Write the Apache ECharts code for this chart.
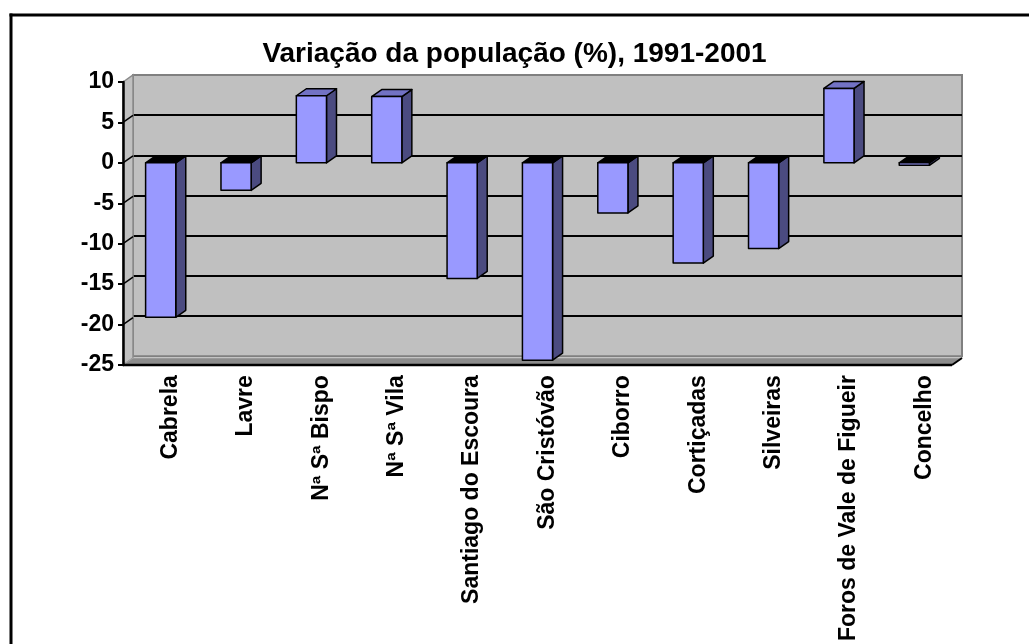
<!DOCTYPE html>
<html>
<head>
<meta charset="utf-8">
<title>Variação da população</title>
<script src="https://cdn.jsdelivr.net/npm/echarts@6/dist/echarts.min.js"></script>
<style>
    html, body { margin: 0; padding: 0; background: #ffffff; overflow: hidden; }
    #chart { width: 1029px; height: 644px; }
</style>
</head>
<body>
<div id="chart"></div>
<script>
// dados
var freguesias = ['Cabrela', 'Lavre', 'Nª Sª Bispo', 'Nª Sª Vila', 'Santiago do Escoura', 'São Cristóvão',
    'Ciborro', 'Cortiçadas', 'Silveiras', 'Foros de Vale de Figueir', 'Concelho'];
var variacao = [-19.1, -3.4, 8.3, 8.2, -14.3, -24.4, -6.2, -12.4, -10.6, 9.2, -0.3];
var yMin = -25, yMax = 10, yStep = 5;

// profundidade do efeito 3D (px)
var DX = 10, DY = -7;
var FONT = 'Liberation Sans, Arial, sans-serif';

var chart = echarts.init(document.getElementById('chart'), null, {renderer: 'canvas'});

function renderWalls(params, api) {
    var cs = params.coordSys;
    var x = cs.x, y = cs.y, w = cs.width, h = cs.height;
    var children = [];
    // parede lateral
    children.push({
        type: 'polygon',
        shape: {points: [[x, y], [x + DX, y + DY], [x + DX, y + h + DY], [x, y + h]]},
        style: {fill: '#C0C0C0', stroke: '#8a8a8a', lineWidth: 1.5}
    });
    // linhas de grelha na parede lateral
    for (var v = yMin + yStep; v < yMax; v += yStep) {
        var py = api.coord([0, v])[1];
        children.push({
            type: 'line',
            shape: {x1: x, y1: py, x2: x + DX, y2: py + DY},
            style: {stroke: '#000', lineWidth: 1.5}
        });
    }
    // chão
    children.push({
        type: 'polygon',
        shape: {points: [[x, y + h], [x + DX, y + h + DY], [x + w + DX, y + h + DY], [x + w, y + h]]},
        style: {fill: '#8c8c8c', stroke: '#a8a8a8', lineWidth: 1}
    });
    children.push({
        type: 'line',
        shape: {x1: x, y1: y + h, x2: x + w, y2: y + h},
        style: {stroke: '#000', lineWidth: 2.5}
    });
    children.push({
        type: 'line',
        shape: {x1: x + w, y1: y + h, x2: x + w + DX, y2: y + h + DY},
        style: {stroke: '#000', lineWidth: 2}
    });
    return {type: 'group', children: children};
}

function renderBar(params, api) {
    var i = api.value(0), v = api.value(1);
    var p0 = api.coord([i, 0]);
    var p1 = api.coord([i, v]);
    var hw = api.size([1, 0])[0] * 0.2;
    var xl = p0[0] - hw, xr = p0[0] + hw;
    var yt = Math.min(p0[1], p1[1]), yb = Math.max(p0[1], p1[1]);
    var edge = {stroke: '#000', lineWidth: 1.5, lineJoin: 'round'};
    return {
        type: 'group',
        children: [
            {
                type: 'polygon',
                shape: {points: [[xr, yt], [xr + DX, yt + DY], [xr + DX, yb + DY], [xr, yb]]},
                style: Object.assign({fill: '#4B4B80'}, edge)
            },
            {
                type: 'polygon',
                shape: {points: [[xl, yt], [xl + DX, yt + DY], [xr + DX, yt + DY], [xr, yt]]},
                style: Object.assign({fill: v >= 0 ? '#7272C4' : '#000'}, edge)
            },
            {
                type: 'rect',
                shape: {x: xl, y: yt, width: xr - xl, height: yb - yt},
                style: Object.assign({fill: '#9999FF'}, edge)
            }
        ]
    };
}

var option = {
    backgroundColor: '#ffffff',
    animation: false,
    title: {
        text: 'Variação da população (%), 1991-2001',
        left: 'center',
        top: 35,
        textStyle: {fontFamily: FONT, fontSize: 28, fontWeight: 'bold', color: '#000'}
    },
    // moldura: só as arestas esquerda e superior ficam visíveis
    graphic: [
        {type: 'line', silent: true, shape: {x1: 11, y1: 13.5, x2: 11, y2: 700},
            style: {stroke: '#000', lineWidth: 3}},
        {type: 'line', silent: true, shape: {x1: 9.5, y1: 15, x2: 1029, y2: 15},
            style: {stroke: '#000', lineWidth: 3}}
    ],
    grid: [
        {left: 123, top: 82, width: 829, height: 283},
        {left: 133, top: 75, width: 829, height: 283, show: true,
            backgroundColor: '#C0C0C0', borderColor: '#808080', borderWidth: 2}
    ],
    xAxis: [
        {gridIndex: 0, type: 'category', data: freguesias, show: false},
        {
            gridIndex: 1, type: 'category', data: freguesias,
            axisLine: {show: false},
            axisTick: {show: false},
            axisLabel: {
                interval: 0, rotate: 90, margin: 19,
                fontFamily: FONT, fontSize: 23, fontWeight: 'bold', color: '#000'
            }
        }
    ],
    yAxis: [
        {
            gridIndex: 0, type: 'value', min: yMin, max: yMax, interval: yStep, z: 5,
            axisLine: {show: true, lineStyle: {color: '#000', width: 2.5}},
            axisTick: {show: true, length: 5, lineStyle: {color: '#000', width: 2}},
            axisLabel: {margin: 9, fontFamily: FONT, fontSize: 23, fontWeight: 'bold', color: '#000'},
            splitLine: {show: false}
        },
        {
            gridIndex: 1, type: 'value', min: yMin, max: yMax, interval: yStep,
            axisLine: {show: false},
            axisTick: {show: false},
            axisLabel: {show: false},
            splitLine: {show: true, showMinLine: false, showMaxLine: false,
                lineStyle: {color: '#000', width: 2}}
        }
    ],
    series: [
        {
            type: 'custom', name: 'paredes', xAxisIndex: 0, yAxisIndex: 0, z: 1,
            silent: true, clip: false,
            data: [[0, 0]],
            renderItem: renderWalls
        },
        {
            type: 'custom', name: 'Variação', xAxisIndex: 0, yAxisIndex: 0, z: 3,
            clip: false,
            data: variacao.map(function (v, i) { return [i, v]; }),
            encode: {x: 0, y: 1},
            renderItem: renderBar
        }
    ]
};
chart.setOption(option);
</script>
</body>
</html>
